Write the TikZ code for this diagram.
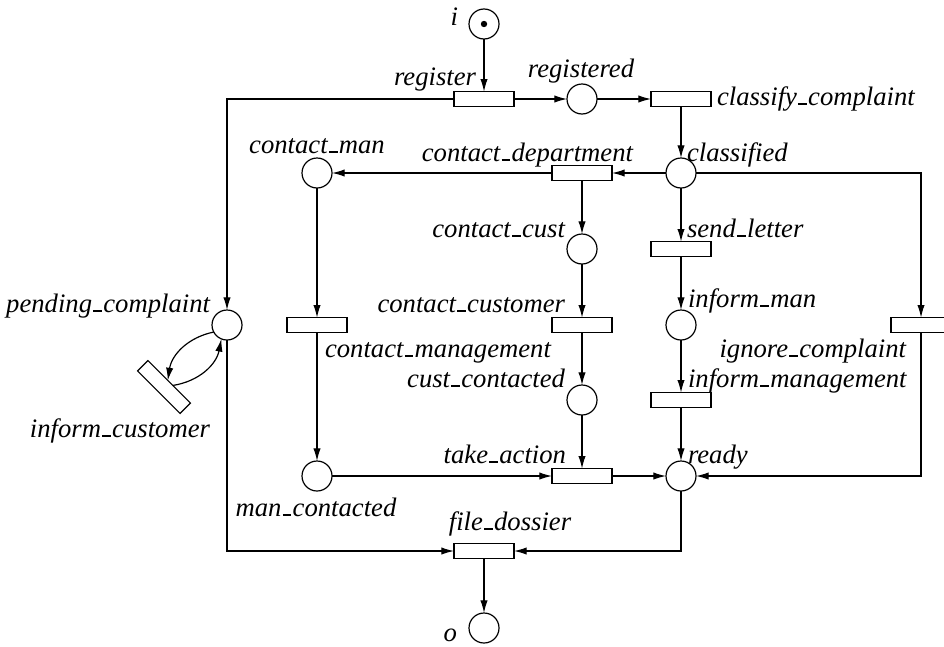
\documentclass[tikz,border=0pt]{standalone}
\usepackage{fontspec}
\setmainfont{Liberation Serif}
\usetikzlibrary{arrows.meta}
% low underscore between words of a label
\newcommand\usc{\kern.05em\rule[-.01em]{.32em}{.07em}\kern.05em}
\begin{document}
\begin{tikzpicture}[x=0.75pt,y=-0.75pt,
  every node/.style={inner sep=0pt,outer sep=0pt},
  place/.style={circle,draw,line width=0.9pt,minimum size=22.5pt},
  trans/.style={rectangle,draw,line width=0.9pt,minimum width=45pt,minimum height=11pt},
  lbl/.style={font=\fontsize{20}{24}\selectfont\itshape},
  arc/.style={line width=0.9pt,-{Latex[length=9.5pt,width=5.5pt]}}]
\useasboundingbox (0,0) rectangle (944,646);

% places
\node[place] (i) at (484,24) {};
\fill (i.center) circle (2.4pt);
\node[place] (registered) at (582,99) {};
\node[place] (classified) at (681,173) {};
\node[place] (contactman) at (317,173) {};
\node[place] (contactcust) at (582,249) {};
\node[place] (pending) at (227,325) {};
\node[place] (informman) at (681,325) {};
\node[place] (custcontacted) at (582,400) {};
\node[place] (mancontacted) at (317,476) {};
\node[place] (ready) at (681,476) {};
\node[place] (o) at (484,628) {};

% transitions
\node[trans] (register) at (484,99) {};
\node[trans] (classify) at (681,99) {};
\node[trans] (contactdept) at (582,173) {};
\node[trans] (sendletter) at (681,249) {};
\node[trans] (contactmgmt) at (317,325) {};
\node[trans] (contactcustomer) at (582,325) {};
\node[trans] (ignore) at (921,325) {};
\node[trans] (informmgmt) at (681,400) {};
\node[trans] (takeaction) at (582,476) {};
\node[trans] (filedossier) at (484,551) {};
\node[trans,rotate=-45] (informcust) at (164,387) {};

% labels
\node[lbl,anchor=base east] (li) at (458,25) {i};
\node[lbl,anchor=base east] (lregister) at (476,85) {register};
\node[lbl,anchor=base] (lregistered) at (581,77) {registered};
\node[lbl,anchor=base west] (lclassify) at (717,105) {classify\usc complaint};
\node[lbl,anchor=base] (lcontactman) at (317,153) {contact\usc man};
\node[lbl,anchor=base east] (lcontactdept) at (633,161) {contact\usc department};
\node[lbl,anchor=base west] (lclassified) at (687,161) {classified};
\node[lbl,anchor=base east] (lcontactcust) at (565,237) {contact\usc cust};
\node[lbl,anchor=base west] (lsendletter) at (687,237) {send\usc letter};
\node[lbl,anchor=base east] (lpending) at (210,312) {pending\usc complaint};
\node[lbl,anchor=base east] (lcontactcustomer) at (565,312) {contact\usc customer};
\node[lbl,anchor=base west] (linformman) at (688,307) {inform\usc man};
\node[lbl,anchor=base west] (lcontactmgmt) at (325,357) {contact\usc management};
\node[lbl,anchor=base east] (lignore) at (906,357) {ignore\usc complaint};
\node[lbl,anchor=base east] (lcustcontacted) at (565,387) {cust\usc contacted};
\node[lbl,anchor=base west] (linformmgmt) at (688,387) {inform\usc management};
\node[lbl,anchor=base east] (linformcust) at (210,437) {inform\usc customer};
\node[lbl,anchor=base east] (ltakeaction) at (566,463) {take\usc action};
\node[lbl,anchor=base west] (lready) at (688,463) {ready};
\node[lbl,anchor=base] (lmancontacted) at (316,516) {man\usc contacted};
\node[lbl,anchor=base] (lfiledossier) at (510,530) {file\usc dossier};
\node[lbl,anchor=base east] (lo) at (457,641) {o};

% arcs
\draw[arc] (i) -- (register);
\draw[arc] (register) -- (registered);
\draw[arc] (registered) -- (classify);
\draw[arc] (classify) -- (classified);
\draw[arc] (classified) -- (contactdept);
\draw[arc] (contactdept) -- (contactman);
\draw[arc] (contactdept) -- (contactcust);
\draw[arc] (classified) -- (sendletter);
\draw[arc] (classified) -| (ignore);
\draw[arc] (register.west) -| (pending);
\draw[arc] (contactman) -- (contactmgmt);
\draw[arc] (contactmgmt) -- (mancontacted);
\draw[arc] (contactcust) -- (contactcustomer);
\draw[arc] (contactcustomer) -- (custcontacted);
\draw[arc] (custcontacted) -- (takeaction);
\draw[arc] (mancontacted) -- (takeaction);
\draw[arc] (takeaction) -- (ready);
\draw[arc] (sendletter) -- (informman);
\draw[arc] (informman) -- (informmgmt);
\draw[arc] (informmgmt) -- (ready);
\draw[arc] (ignore) |- (ready);
\draw[arc] (pending) |- (filedossier);
\draw[arc] (ready) |- (filedossier);
\draw[arc] (filedossier) -- (o);
\draw[arc] (pending.208) to[bend right=35] (informcust.105);
\draw[arc] (informcust.55) to[bend right=35] (pending.248);
\end{tikzpicture}
\end{document}
